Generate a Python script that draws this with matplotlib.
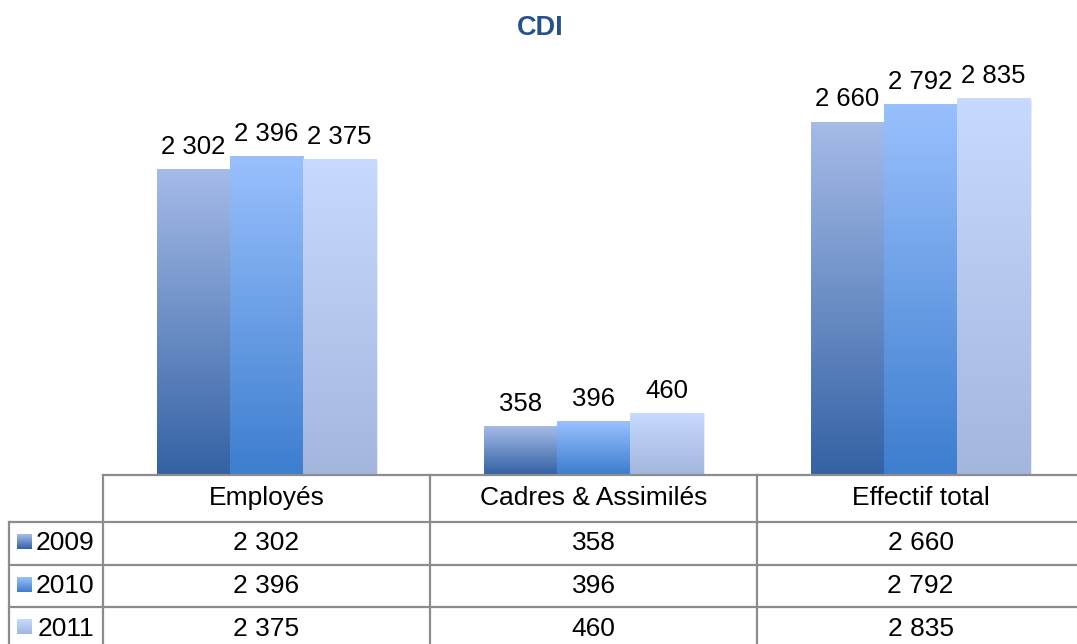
import numpy as np
import matplotlib
matplotlib.use("Agg")
from matplotlib import pyplot as plt
from matplotlib.colors import to_rgb
from matplotlib.transforms import blended_transform_factory

plt.rcParams['font.family'] = ['Liberation Sans', 'DejaVu Sans']

# Données
categories = ['Employés', 'Cadres & Assimilés', 'Effectif total']
annees = ['2009', '2010', '2011']
valeurs_2009 = [2302, 358, 2660]
valeurs_2010 = [2396, 396, 2792]
valeurs_2011 = [2375, 460, 2835]
series = [valeurs_2009, valeurs_2010, valeurs_2011]

# Dégradés (bas, haut) pour chaque année
couleurs = [('#3462A4', '#A5BBE8'),
            ('#3D7ECF', '#99C0FD'),
            ('#A3B6DE', '#C6D9FE')]


def fmt(v):
    return f'{v:,}'.replace(',', ' ')


def gradient(bas, haut, n=256):
    b = np.array(to_rgb(bas))
    h = np.array(to_rgb(haut))
    t = np.linspace(0, 1, n)[:, None]
    return (b + (h - b) * t)[:, None, :]


W, H = 1077, 644
AX_H = 434.5
fig = plt.figure(figsize=(W / 100, H / 100), dpi=100)
# axe : de x=103 a x=1084 px, de y=40 a y=474.5 px
ax = fig.add_axes([103 / W, (H - 474.5) / H, 981 / W, AX_H / H])

x = np.arange(len(categories))
bar_width = 0.2235
for i, (vals, (bas, haut)) in enumerate(zip(series, couleurs)):
    bars = ax.bar(x + (i - 1) * bar_width, vals, bar_width,
                  facecolor='none', edgecolor='none', zorder=2)
    for p in bars:
        x0, w, h = p.get_x(), p.get_width(), p.get_height()
        # petite ombre a droite
        ax.add_patch(plt.Rectangle((x0 + 0.006, -8), w, h + 2, color='#000000',
                                   alpha=0.08, zorder=0.5, lw=0, clip_on=False))
        ax.imshow(gradient(bas, haut), extent=(x0, x0 + w, 0, h),
                  origin='lower', aspect='auto', zorder=1)
    ax.bar_label(bars, labels=[fmt(v) for v in vals], padding=8, fontsize=18.5)

ax.set_xlim(-0.5, 2.5)
ax.set_ylim(0, 3284)
ax.axis('off')

# Tableau de données sous le graphique (lignes en x données, y axes)
tr = blended_transform_factory(ax.transData, ax.transAxes)
col_px = 327.0
x_lab = -0.5 - 94 / col_px
h_head = 47.5 / AX_H
h_row = 42.7 / AX_H
y_rows = [-h_head - k * h_row for k in range(4)]
y_bot = y_rows[-1] - 0.05
lc = '#8c8c8c'
lw = 1.6

ax.plot([-0.5, 2.5], [0, 0], color=lc, lw=lw, transform=tr, clip_on=False)
for y in y_rows[:3]:
    ax.plot([x_lab, 2.5], [y, y], color=lc, lw=lw, transform=tr, clip_on=False)
for xb in [-0.5, 0.5, 1.5]:
    ax.plot([xb, xb], [0, y_bot], color=lc, lw=lw, transform=tr, clip_on=False)
ax.plot([x_lab, x_lab], [y_rows[0], y_bot], color=lc, lw=lw, transform=tr, clip_on=False)

for j, c in enumerate(categories):
    ax.text(x[j], -h_head / 2, c, ha='center', va='center', fontsize=19,
            transform=tr)
for i, (a, vals) in enumerate(zip(annees, series)):
    yc = y_rows[i] - h_row / 2
    ax.text(-0.5 - 9 / col_px, yc, a, ha='right', va='center', fontsize=19,
            transform=tr)
    for j, v in enumerate(vals):
        ax.text(x[j], yc, fmt(v), ha='center', va='center', fontsize=19,
                transform=tr)

# Petits carrés de légende
for i, (bas, haut) in enumerate(couleurs):
    yc = 474.5 + 47.5 + 42.7 * (i + 0.5) - 2
    kax = fig.add_axes([17 / W, (H - yc - 7.5) / H, 15 / W, 15 / H])
    kax.imshow(gradient(bas, haut, 32), origin='lower', aspect='auto')
    kax.axis('off')

fig.text(540 / W, 1 - 28 / H, 'CDI', ha='center', va='center',
         fontsize=19.5, fontweight='bold', color='#25528F')

fig.savefig('out.png', dpi=100)
